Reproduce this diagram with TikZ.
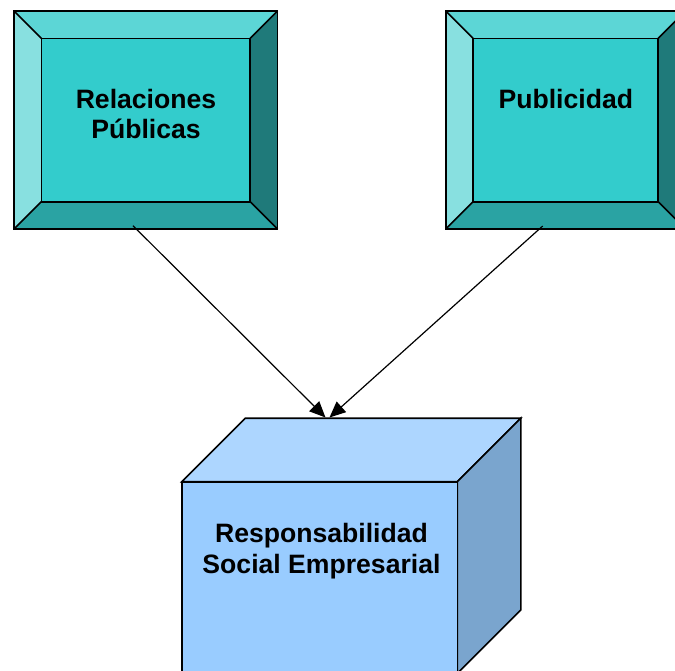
\documentclass[tikz,border=0pt]{standalone}
\usepackage{fontspec}
\setmainfont{Liberation Sans}
\usetikzlibrary{arrows.meta,fit}
\definecolor{bevtop}{HTML}{5CD6D6}
\definecolor{bevleft}{HTML}{88E0E0}
\definecolor{bevface}{HTML}{33CCCC}
\definecolor{bevbot}{HTML}{2AA3A3}
\definecolor{bevright}{HTML}{1F7A7A}
\definecolor{cubetop}{HTML}{ADD6FF}
\definecolor{cubefront}{HTML}{99CCFF}
\definecolor{cubeside}{HTML}{7AA5CE}
\newcommand\bevelbox[6]{%
  \fill[bevtop] (#2,#3)--(#4,#3)--(#4-#6,#3+#6)--(#2+#6,#3+#6)--cycle;
  \fill[bevleft] (#2,#3)--(#2+#6,#3+#6)--(#2+#6,#5-#6)--(#2,#5)--cycle;
  \fill[bevbot] (#2,#5)--(#2+#6,#5-#6)--(#4-#6,#5-#6)--(#4,#5)--cycle;
  \fill[bevright] (#4,#3)--(#4,#5)--(#4-#6,#5-#6)--(#4-#6,#3+#6)--cycle;
  \path[edge,fill=bevface] (#2+#6,#3+#6) rectangle (#4-#6,#5-#6);
  \draw[edge] (#2,#3)--(#2+#6,#3+#6) (#4,#3)--(#4-#6,#3+#6)
              (#2,#5)--(#2+#6,#5-#6) (#4,#5)--(#4-#6,#5-#6);
  \node[fit={(#2,#3) (#4,#5)},inner sep=0pt,edge] (#1) {};
}
\begin{document}
\begin{tikzpicture}[x=1pt,y=-1pt,
  edge/.style={draw=black,line width=1.6pt,line join=miter},
  lbl/.style={font=\bfseries\fontsize{26.6}{30.5}\selectfont,align=center,text=black,inner sep=0pt,anchor=north},
  conn/.style={draw=black,line width=1.2pt,-{Triangle[length=16pt,width=14pt]}}]
\useasboundingbox (0,0) rectangle (675,670);
\begin{scope}
\clip (0,0) rectangle (675,670);
\bevelbox{rp}{14}{11}{277.5}{229}{27.3}
\bevelbox{pub}{445.7}{11}{685.5}{229}{27.3}
\node[lbl] (rp-text) at (146,89) {Relaciones\\Públicas};
\node[lbl] (pub-text) at (565.8,89) {Publicidad};
% cube
\path[edge,fill=cubetop] (181.7,481.7)--(245.2,418.2)--(520.8,418.2)--(457.3,481.7)--cycle;
\path[edge,fill=cubeside] (457.3,481.7)--(520.8,418.2)--(520.8,610)--(457.3,673.5)--cycle;
\node[fit={(181.7,481.7) (457.3,740)},inner sep=0pt,edge,fill=cubefront] (rse) {};
\node[lbl] (rse-text) at (321.5,523.5) {Responsabilidad\\Social Empresarial};
\coordinate (rp-out) at (133,225.7);
\coordinate (pub-out) at (542.7,226);
\coordinate (rse-inA) at (325.5,417.5);
\coordinate (rse-inB) at (329.5,417.5);
\draw[conn] (rp-out) -- (rse-inA);
\draw[conn] (pub-out) -- (rse-inB);
\end{scope}
\end{tikzpicture}
\end{document}
